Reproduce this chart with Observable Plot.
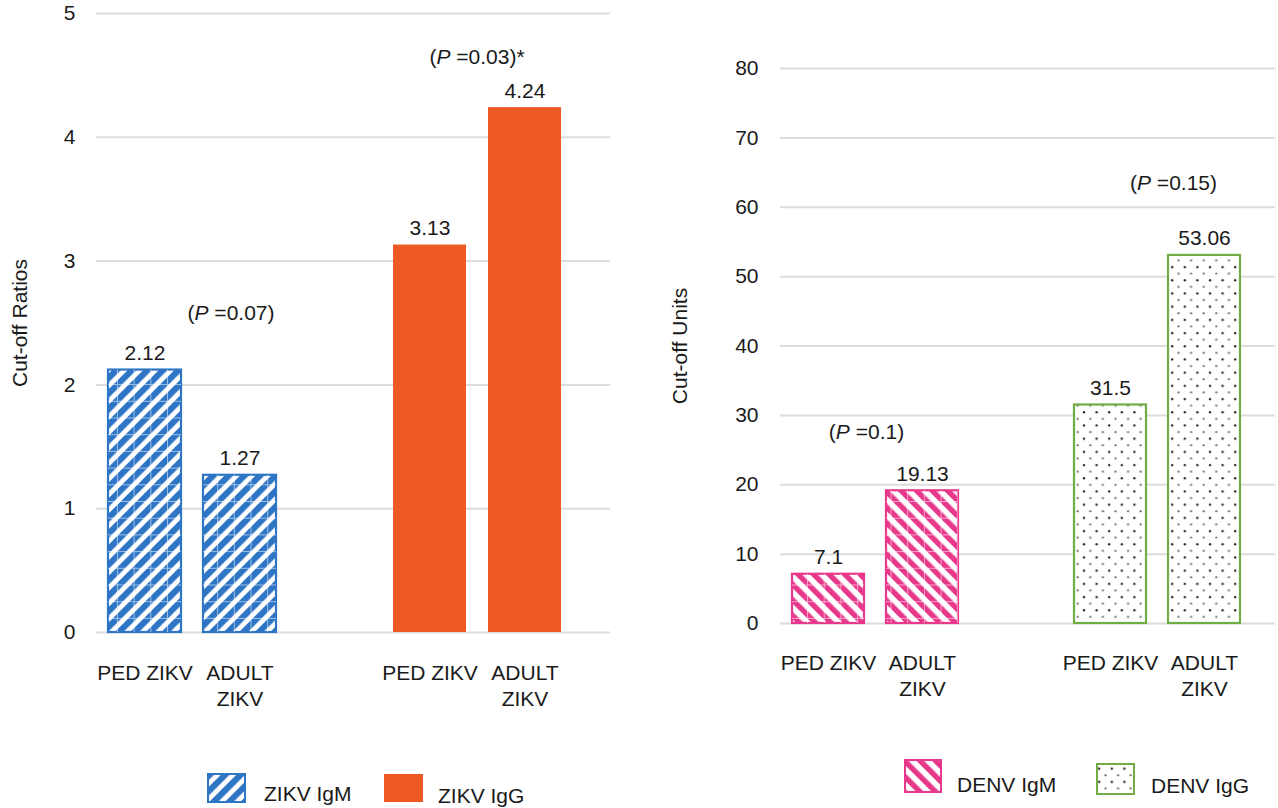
<!DOCTYPE html>
<html><head><meta charset="utf-8">
<script src="https://cdn.jsdelivr.net/npm/d3@7"></script>
<script src="https://cdn.jsdelivr.net/npm/@observablehq/plot@0.6"></script>
<style>
body{margin:0;background:#fff;font-family:"Liberation Sans",Arial,Helvetica,sans-serif;}
#wrap{position:relative;width:1278px;height:808px;overflow:hidden;background:#fff;}
#left{position:absolute;left:0;top:0;}
#right{position:absolute;left:640px;top:0;}
#legend{position:absolute;left:0;top:0;}
</style></head><body>
<svg width="0" height="0" style="position:absolute">
<defs>
  <pattern id="pBlue" patternUnits="userSpaceOnUse" width="11" height="11" patternTransform="rotate(45)">
    <rect width="11" height="11" fill="#fff"/><rect width="6.2" height="11" fill="#2E75C5"/>
  </pattern>
  <pattern id="pPink" patternUnits="userSpaceOnUse" width="11" height="11" patternTransform="rotate(-45)">
    <rect width="11" height="11" fill="#fff"/><rect width="5.4" height="11" fill="#E8388C"/>
  </pattern>
  <pattern id="pGrid" patternUnits="userSpaceOnUse" width="16.7" height="16.7">
    <path d="M0.5 0V16.7M0 0.5H16.7" stroke="#ffffff" stroke-opacity="0.55" stroke-width="1" fill="none"/>
  </pattern>
  <pattern id="pDots" patternUnits="userSpaceOnUse" width="12.6" height="13.2">
    <rect width="12.6" height="13.2" fill="#fff"/>
    <circle cx="3" cy="3" r="1.15" fill="#222"/>
    <circle cx="9.3" cy="9.6" r="1.1" fill="#777"/>
  </pattern>
</defs></svg>
<div id="wrap"><div id="left"></div><div id="right"></div><div id="legend"></div></div>
<script>
// ---- data ----
const cohorts = ["PED ZIKV", "ADULT ZIKV"];
const zikvIgM = [2.12, 1.27];
const zikvIgG = [3.13, 4.24];
const denvIgM = [7.1, 19.13];
const denvIgG = [31.5, 53.06];
const leftTicks = [0, 1, 2, 3, 4, 5];
const rightTicks = [0, 10, 20, 30, 40, 50, 60, 70, 80];
const pLeft = [{text: "(P =0.07)", value: 2.58}, {text: "(P =0.03)*", value: 4.65}];
const pRight = [{text: "(P =0.1)", value: 27.5}, {text: "(P =0.15)", value: 63.4}];

const FONT = "Liberation Sans, Arial, Helvetica, sans-serif";
const FS = 21;
const INK = "#1a1a1a";
const keysL = ["IgM|PED", "IgM|ADULT", "gap", "IgG|PED", "IgG|ADULT"];
const cohortKey = ["PED", "ADULT"];
const labelOf = k => k === "gap" ? "" : (k.endsWith("PED") ? "PED ZIKV" : "ADULT\nZIKV");

function rows(prefix, vals, series) {
  return vals.map((v, i) => ({key: prefix + "|" + cohortKey[i], cohort: cohorts[i], value: v, series}));
}
const leftM = rows("IgM", zikvIgM, "ZIKV IgM");
const leftG = rows("IgG", zikvIgG, "ZIKV IgG");
const rightM = rows("IgM", denvIgM, "DENV IgM");
const rightG = rows("IgG", denvIgG, "DENV IgG");
const tickKeys = keysL.filter(k => k !== "gap");

function italicP(svg) {
  d3.select(svg).selectAll("text").each(function () {
    const t = this.textContent;
    if (this.childElementCount === 0 && t.startsWith("(P")) {
      const el = d3.select(this);
      el.text("");
      el.append("tspan").text("(");
      el.append("tspan").attr("font-style", "italic").text("P");
      el.append("tspan").text(t.slice(2));
    }
  });
}

const left = Plot.plot({
  width: 640, height: 720,
  marginLeft: 96, marginRight: 30, marginTop: 13, marginBottom: 88,
  style: {fontFamily: FONT, fontSize: FS + "px", color: INK, background: "transparent"},
  x: {type: "band", domain: keysL, paddingInner: 0.2316, paddingOuter: 0.321, align: 0.197, axis: null},
  y: {domain: [0, 5], ticks: leftTicks},
  marks: [
    Plot.gridY(leftTicks, {stroke: "#dcdcdc", strokeOpacity: 1, strokeWidth: 2}),
    Plot.axisY(leftTicks, {tickSize: 0, tickPadding: 21, fontSize: FS, tickFormat: d => String(d), label: "Cut-off Ratios", labelAnchor: "center", labelArrow: "none", labelOffset: 84, fill: INK}),
    Plot.barY(leftM, {x: "key", y: "value", fill: "url(#pBlue)", stroke: "#2E75C5", strokeWidth: 2.2}),
    Plot.barY(leftM, {x: "key", y: "value", fill: "url(#pGrid)"}),
    Plot.barY(leftG, {x: "key", y: "value", fill: "#EE5A24"}),
    Plot.text([...leftM, ...leftG], {x: "key", y: "value", text: d => d.value.toFixed(2), lineAnchor: "bottom", dy: -10, fontSize: FS, fill: INK}),
    Plot.text(tickKeys, {x: d => d, text: labelOf, frameAnchor: "bottom", lineAnchor: "top", dy: 29, lineHeight: 1.25, fontSize: FS, fill: INK}),
    Plot.text([pLeft[0]], {x: () => "IgM|ADULT", y: "value", text: "text", dx: -9, fontSize: FS, fill: INK}),
    Plot.text([pLeft[1]], {x: () => "IgG|ADULT", y: "value", text: "text", dx: -48, fontSize: FS, fill: INK})
  ]
});
italicP(left);
document.getElementById("left").appendChild(left);

const right = Plot.plot({
  width: 638, height: 720,
  marginLeft: 140, marginRight: 3, marginTop: 68, marginBottom: 97,
  style: {fontFamily: FONT, fontSize: FS + "px", color: INK, background: "transparent"},
  x: {type: "band", domain: keysL, paddingInner: 0.2328, paddingOuter: 0.2355, align: 0.247, axis: null},
  y: {domain: [0, 80], ticks: rightTicks},
  marks: [
    Plot.gridY(rightTicks, {stroke: "#dcdcdc", strokeOpacity: 1, strokeWidth: 2}),
    Plot.axisY(rightTicks, {tickSize: 0, tickPadding: 22, fontSize: FS, tickFormat: d => String(d), label: "Cut-off Units", labelAnchor: "center", labelArrow: "none", labelOffset: 108, fill: INK}),
    Plot.barY(rightM, {x: "key", y: "value", fill: "url(#pPink)", stroke: "#E8388C", strokeWidth: 2.2}),
    Plot.barY(rightM, {x: "key", y: "value", fill: "url(#pGrid)"}),
    Plot.barY(rightG, {x: "key", y: "value", fill: "url(#pDots)", stroke: "#70AD47", strokeWidth: 2.2}),
    Plot.text([...rightM, ...rightG], {x: "key", y: "value", text: d => String(d.value), lineAnchor: "bottom", dy: -10, fontSize: FS, fill: INK}),
    Plot.text(tickKeys, {x: d => d, text: labelOf, frameAnchor: "bottom", lineAnchor: "top", dy: 28, lineHeight: 1.25, fontSize: FS, fill: INK}),
    Plot.text([pRight[0]], {x: () => "IgM|ADULT", y: "value", text: "text", dx: -56, fontSize: FS, fill: INK}),
    Plot.text([pRight[1]], {x: () => "IgG|ADULT", y: "value", text: "text", dx: -31, fontSize: FS, fill: INK})
  ]
});
italicP(right);
document.getElementById("right").appendChild(right);

// ---- legend ----
const legendItems = [
  {name: "ZIKV IgM", fill: "url(#pBlue)", stroke: "#2E75C5", box: [207, 773, 39, 30], tx: 264, ty: 801},
  {name: "ZIKV IgG", fill: "#EE5A24", stroke: "none", box: [383, 773, 41, 30], tx: 438, ty: 803},
  {name: "DENV IgM", fill: "url(#pPink)", stroke: "#E8388C", box: [904, 759, 38, 34], tx: 957, ty: 792},
  {name: "DENV IgG", fill: "url(#pDots)", stroke: "#70AD47", box: [1096, 763, 39, 32], tx: 1151, ty: 793}
];
const lg = d3.create("svg").attr("width", 1278).attr("height", 808)
  .style("font-family", FONT).style("font-size", FS + "px");
for (const it of legendItems) {
  const [x, y, w, h] = it.box;
  lg.append("rect").attr("x", x + 1).attr("y", y + 1).attr("width", w - 2).attr("height", h - 2)
    .attr("fill", it.fill).attr("stroke", it.stroke).attr("stroke-width", 2);
  lg.append("text").attr("x", it.tx).attr("y", it.ty).attr("fill", INK).text(it.name);
}
document.getElementById("legend").appendChild(lg.node());
</script>
</body></html>
